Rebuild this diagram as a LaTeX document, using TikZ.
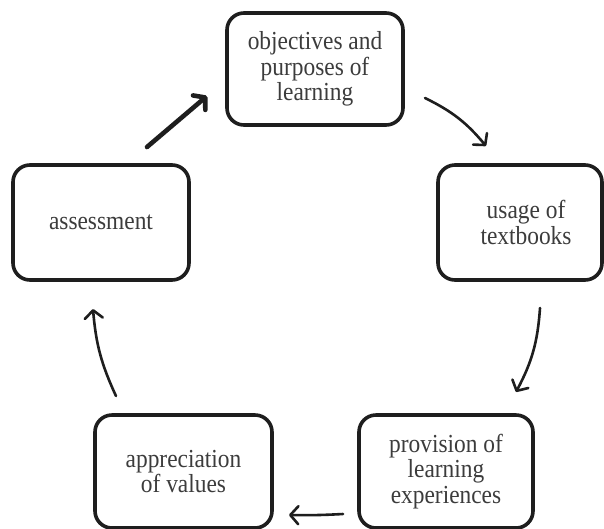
\documentclass[tikz,border=0pt]{standalone}
\usepackage{fontspec}
\setmainfont{Liberation Serif}[FakeStretch=0.9]
\usetikzlibrary{arrows.meta}
\definecolor{boxline}{HTML}{1E1E1E}
\definecolor{txt}{HTML}{3C3C3C}
\begin{document}
\begin{tikzpicture}[x=1pt,y=-1pt,
  stagebox/.style={draw=boxline, line width=3.6pt, rounded corners=17pt,
    align=center, text=txt, inner sep=0pt,
    font=\fontsize{26}{25.5}\selectfont},
  cyclearrow/.style={draw=boxline, line width=2.6pt, line cap=round,
    -{Straight Barb[length=8pt,width=18pt,line cap=round,line join=round]}},
  thickarrow/.style={cyclearrow, line width=4.6pt,
    -{Straight Barb[length=8pt,width=19pt,line cap=round,line join=round]}}
]
\useasboundingbox (0,0) rectangle (604,528);
\fill[white] (0,0) rectangle (604,528);

\node[stagebox, minimum width=176pt, minimum height=112pt] (obj) at (315,69)
  {objectives and\\purposes of\\learning};
\node[stagebox, minimum width=164pt, minimum height=115pt] (use) at (520,222.5)
  {\hspace*{12pt}usage of\\\hspace*{12pt}textbooks};
\node[stagebox, minimum width=174pt, minimum height=113pt] (prov) at (446,471.5)
  {provision of\\learning\\experiences};
\node[stagebox, minimum width=177pt, minimum height=113pt] (appr) at (183.5,471.5)
  {appreciation\\of values};
\node[stagebox, minimum width=176pt, minimum height=115pt] (ass) at (101,222.5)
  {assessment};

\coordinate (s1) at (147,147); \coordinate (e1) at (207,96);
\coordinate (s2) at (425,98);  \coordinate (e2) at (486,146);
\coordinate (s3) at (540,308); \coordinate (e3) at (516,392);
\coordinate (s4) at (343,514); \coordinate (e4) at (289,515);
\coordinate (s5) at (116,396); \coordinate (e5) at (93,309);

\draw[thickarrow] (s1) -- (e1);
\draw[cyclearrow] (s2) to[bend left=12] (e2);
\draw[cyclearrow] (s3) to[bend left=12] (e3);
\draw[cyclearrow] (s4) to[bend left=2] (e4);
\draw[cyclearrow] (s5) to[bend left=10] (e5);
\end{tikzpicture}
\end{document}
